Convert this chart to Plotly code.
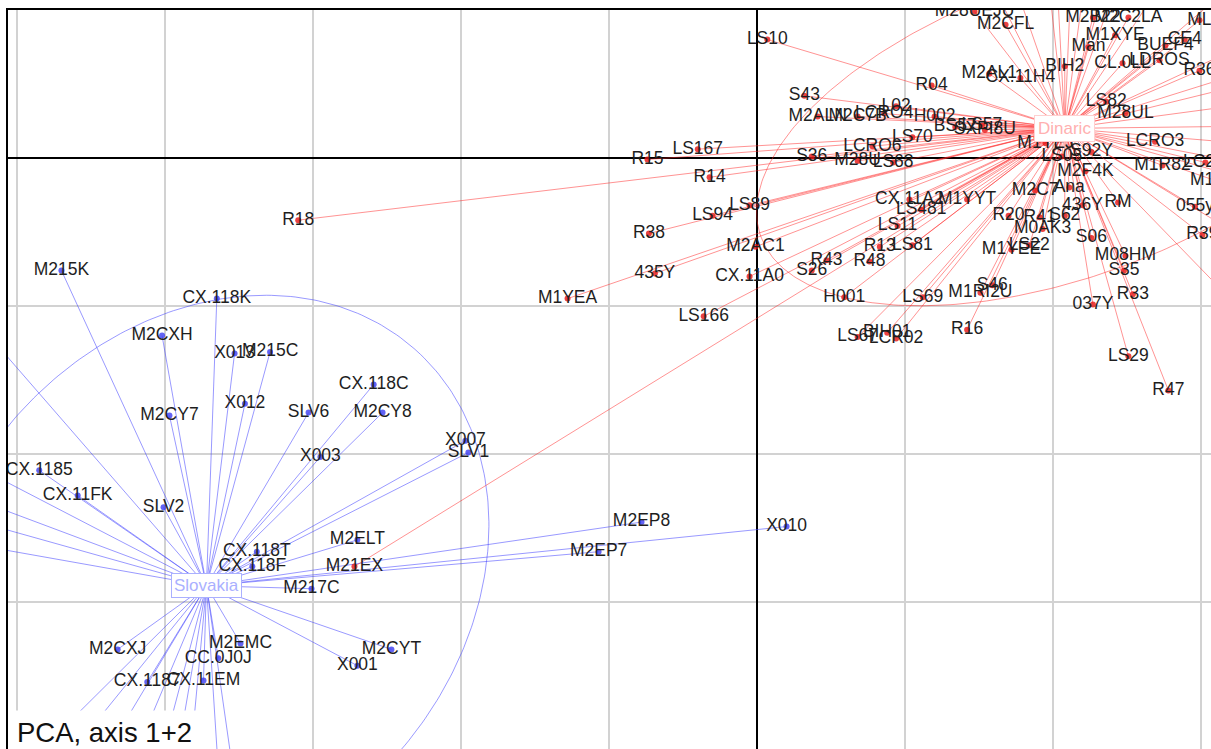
import numpy as np
import plotly.graph_objects as go

# ---------------- Slovakia individuals (PC1, PC2) ----------------
slovakia_labels = [
    "M215K", "CX.118K", "M2CXH", "X013", "M215C", "X012", "M2CY7", "SLV6",
    "X003", "CX.118C", "M2CY8", "X007", "SLV1", "CX.1185", "CX.11FK", "SLV2",
    "CX.118T", "CX.118F", "M2ELT", "M217C", "M2EMC", "CC.0J0J", "M2CXJ",
    "CX.1187", "CX.11EM", "M2CYT", "X001", "M2EP8", "M2EP7", "X010",
]
slovakia_pc1 = [
    -4.70, -3.65, -4.02, -3.53, -3.29, -3.46, -3.97, -3.03,
    -2.95, -2.59, -2.53, -1.97, -1.95, -4.85, -4.59, -4.01,
    -3.38, -3.41, -2.70, -3.01, -3.49, -3.64, -4.32,
    -4.12, -3.74, -2.47, -2.70, -0.78, -1.07, 0.20,
]
slovakia_pc2 = [
    -0.76, -0.95, -1.20, -1.32, -1.31, -1.66, -1.74, -1.72,
    -2.02, -1.53, -1.72, -1.91, -1.99, -2.11, -2.28, -2.36,
    -2.66, -2.76, -2.58, -2.91, -3.28, -3.38, -3.32,
    -3.54, -3.53, -3.32, -3.43, -2.46, -2.66, -2.49,
]
# Slovakia individuals lying beyond the frame (only their links show)
slovakia_outer_pc1 = [-5.52, -6.13, -5.99, -5.79, -6.20, -6.54, -5.99, -5.40,
                      -4.90, -4.46, -4.20, -3.98, -3.54, -3.32]
slovakia_outer_pc2 = [-0.82, -1.64, -2.04, -2.31, -2.45, -5.69, -5.69, -5.69,
                      -5.69, -5.69, -5.69, -5.69, -5.69, -5.69]
slovakia_centroid = (-3.72, -2.89)
slovakia_ellipse = (2.13, 1.72, 48.8)  # semi-axis 1, semi-axis 2, angle (deg)

# ---------------- Dinaric individuals (PC1, PC2) ----------------
dinaric_labels = [
    "M21EX", "R18", "M1YEA", "435Y", "R38", "LS166", "R15", "LS167", "R14",
    "LS94", "LS89", "M2AC1", "CX.11A0", "LS10", "S43", "M2ALN", "M2C7B",
    "LCRO4", "L02", "H002", "R04", "M2AL1", "CX.11H4", "BIH2", "M2CFL",
    "M28UEJU", "LS70", "LS57", "BS57", "SXPI8U", "M1YEJ", "LCRO6", "S36",
    "M28U", "LS68", "LS82", "M28UL", "LCRO3", "LS05", "S92Y", "M2F4K",
    "M2C7", "Ana", "436Y", "RM", "055y", "R39", "CX.11A2", "LS481", "M1YYT",
    "LS11", "R13", "LS81", "R43", "S26", "R48", "H001", "LS69", "LS67",
    "BIH01", "LCR02", "R16", "M1RI2U", "S46", "R20", "R41", "S62", "M0AK3",
    "M1YEE", "LS22", "S06", "M08HM", "S35", "R33", "037Y", "LS29", "R47",
    "M1R82", "LC2C", "M1YR", "M2B22", "M2C2LA", "M1XYE", "BUEF4", "Man",
    "CL.0LL", "LDROS", "R36", "ML", "CE4",
]
dinaric_pc1 = [
    -2.72, -3.10, -1.28, -0.69, -0.73, -0.36, -0.74, -0.40, -0.32,
    -0.30, -0.05, -0.01, -0.05, 0.07, 0.32, 0.41, 0.68,
    0.86, 0.94, 1.20, 1.18, 1.57, 1.78, 2.08, 1.68,
    1.47, 1.05, 1.52, 1.34, 1.54, 1.95, 0.78, 0.37,
    0.68, 0.92, 2.36, 2.49, 2.69, 2.06, 2.26, 2.22,
    1.88, 2.11, 2.20, 2.44, 2.96, 3.01, 1.03, 1.11, 1.42,
    0.95, 0.83, 1.05, 0.47, 0.37, 0.76, 0.59, 1.12, 0.68,
    0.88, 0.94, 1.42, 1.51, 1.59, 1.70, 1.91, 2.08, 1.93,
    1.72, 1.84, 2.26, 2.49, 2.48, 2.54, 2.27, 2.51, 2.78,
    2.74, 3.03, 3.09, 2.27, 2.51, 2.42, 2.76, 2.24,
    2.47, 2.72, 2.99, 2.99, 2.89,
]
dinaric_pc2 = [
    -2.76, -0.42, -0.95, -0.78, -0.51, -1.07, -0.01, 0.06, -0.13,
    -0.39, -0.32, -0.60, -0.80, 0.80, 0.42, 0.28, 0.28,
    0.30, 0.35, 0.28, 0.49, 0.57, 0.54, 0.62, 0.90,
    0.99, 0.14, 0.22, 0.21, 0.19, 0.10, 0.08, 0.01,
    -0.02, -0.03, 0.38, 0.30, 0.11, 0.01, 0.04, -0.09,
    -0.22, -0.20, -0.32, -0.30, -0.33, -0.52, -0.28, -0.35, -0.28,
    -0.46, -0.60, -0.59, -0.69, -0.76, -0.70, -0.94, -0.94, -1.21,
    -1.18, -1.22, -1.16, -0.91, -0.86, -0.39, -0.40, -0.39, -0.48,
    -0.62, -0.59, -0.54, -0.66, -0.76, -0.92, -0.99, -1.34, -1.57,
    -0.05, -0.03, -0.15, 0.95, 0.95, 0.83, 0.76, 0.75,
    0.64, 0.66, 0.59, 0.93, 0.80,
]
# Dinaric individuals lying beyond the frame (only their links show)
dinaric_outer_pc1 = [1.37, 1.64, 1.91, 2.01, 2.15, 2.28, 2.45, 2.66, 2.93,
                     3.33, 3.80, 3.87, 3.67, 3.80, 3.74, 3.87, 3.67, 3.80,
                     3.53, 3.40]
dinaric_outer_pc2 = [1.61, 1.47, 1.74, 1.54, 1.88, 1.68, 1.54, 1.81, 1.47,
                     1.27, 1.00, 0.76, 0.59, 0.43, 0.22, 0.05, -0.11, -0.28,
                     -0.69, -1.16]
dinaric_centroid = (2.08, 0.20)
dinaric_ellipse = (2.18, 1.01, 19.5)

# label cut by the upper frame edge
other_labels = ["X0021"]
other_pc1 = [-4.88]
other_pc2 = [1.04]

BLUE = "rgba(70,70,255,0.55)"
RED = "rgba(255,40,40,0.50)"
BLUE_PT = "rgba(60,60,240,0.8)"
RED_PT = "rgba(230,20,20,0.8)"
LABEL_FONT = dict(family="Liberation Sans, Arial, sans-serif", size=17.5, color="#1e1e1e")


def star_segments(cx, cy, xs, ys):
    sx, sy = [], []
    for x, y in zip(xs, ys):
        sx += [cx, x, None]
        sy += [cy, y, None]
    return sx, sy


def ellipse_path(cx, cy, params):
    a, b, ang = params
    th = np.deg2rad(ang)
    t = np.linspace(0, 2 * np.pi, 361)
    ex = cx + a * np.cos(t) * np.cos(th) - b * np.sin(t) * np.sin(th)
    ey = cy + a * np.cos(t) * np.sin(th) + b * np.sin(t) * np.cos(th)
    return ex, ey


fig = go.Figure()

groups = [
    (slovakia_labels, slovakia_pc1, slovakia_pc2, slovakia_outer_pc1, slovakia_outer_pc2,
     slovakia_centroid, slovakia_ellipse, BLUE, BLUE_PT),
    (dinaric_labels, dinaric_pc1, dinaric_pc2, dinaric_outer_pc1, dinaric_outer_pc2,
     dinaric_centroid, dinaric_ellipse, RED, RED_PT),
]

# ellipses and star lines
for labels, xs, ys, oxs, oys, (cx, cy), ell, lc, pc in groups:
    ex, ey = ellipse_path(cx, cy, ell)
    fig.add_trace(go.Scatter(x=ex, y=ey, mode="lines",
                             line=dict(color=lc, width=1), hoverinfo="skip"))
    sx, sy = star_segments(cx, cy, list(xs) + list(oxs), list(ys) + list(oys))
    fig.add_trace(go.Scatter(x=sx, y=sy, mode="lines",
                             line=dict(color=lc, width=1), hoverinfo="skip"))

# points with labels
for labels, xs, ys, oxs, oys, (cx, cy), ell, lc, pc in groups:
    fig.add_trace(go.Scatter(x=xs, y=ys, mode="markers+text", text=labels,
                             textposition="middle center", textfont=LABEL_FONT,
                             marker=dict(size=6, color=pc, line=dict(width=0)),
                             cliponaxis=True))

fig.add_trace(go.Scatter(x=other_pc1, y=other_pc2, mode="text", text=other_labels,
                         textposition="middle center", textfont=LABEL_FONT,
                         cliponaxis=True))

# group name boxes
fig.add_annotation(x=slovakia_centroid[0], y=slovakia_centroid[1], text="Slovakia",
                   showarrow=False, xref="x", yref="y",
                   font=dict(family="Liberation Sans, Arial, sans-serif", size=17, color="#aab0ff"),
                   bgcolor="white", bordercolor="#aab0ff", borderwidth=1, borderpad=2)
fig.add_annotation(x=dinaric_centroid[0], y=dinaric_centroid[1], text="Dinaric",
                   showarrow=False, xref="x", yref="y",
                   font=dict(family="Liberation Sans, Arial, sans-serif", size=17, color="#ffb0b0"),
                   bgcolor="white", bordercolor="#ffd0d0", borderwidth=1, borderpad=3)

# panel caption on a white patch
fig.add_annotation(x=0, y=0, xref="paper", yref="paper", xanchor="left", yanchor="bottom",
                   text="PCA, axis 1+2", showarrow=False, yshift=-6, xshift=2,
                   font=dict(family="Liberation Sans, Arial, sans-serif", size=27.5, color="#111111"),
                   bgcolor="white", borderpad=6)

fig.update_xaxes(range=[-5.061, 3.068], dtick=1, tick0=0, showgrid=True,
                 gridcolor="#d2d2d2", gridwidth=1.5, zeroline=True,
                 zerolinecolor="black", zerolinewidth=1.5, showticklabels=False,
                 ticks="", side="top", showline=True, linecolor="black", linewidth=2)
fig.update_yaxes(range=[-3.993, 1.0], dtick=1, tick0=0, showgrid=True,
                 gridcolor="#d2d2d2", gridwidth=1.5, zeroline=True,
                 zerolinecolor="black", zerolinewidth=1.5, showticklabels=False,
                 ticks="", showline=True, linecolor="black", linewidth=2)

fig.update_layout(width=1211, height=749, margin=dict(l=8, r=0, t=10, b=0),
                  paper_bgcolor="white", plot_bgcolor="white", showlegend=False)

fig.write_html("out.html")
